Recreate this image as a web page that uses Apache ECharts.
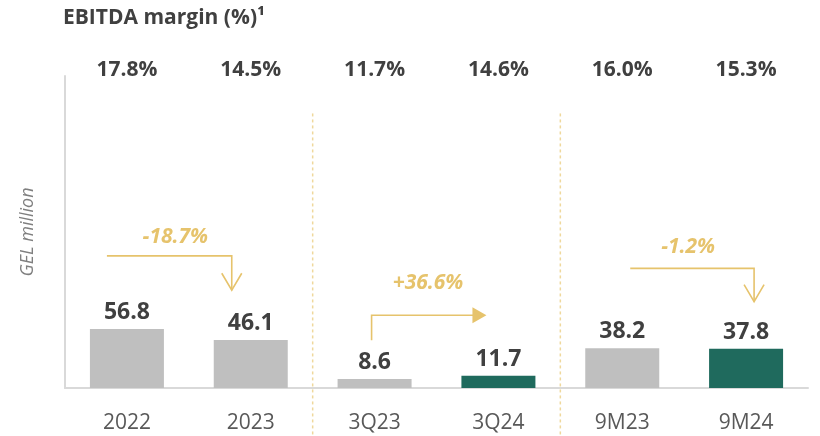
<!DOCTYPE html>
<html>
<head>
<meta charset="utf-8">
<script src="https://cdn.jsdelivr.net/npm/echarts@6/dist/echarts.min.js"></script>
<style>html,body{margin:0;padding:0;background:#fff;}#chart{width:820px;height:436px;}</style>
</head>
<body>
<div id="chart"></div>
<script>
// ---- data ----
const categories = ['2022', '2023', '3Q23', '3Q24', '9M23', '9M24'];
const ebitda = [56.8, 46.1, 8.6, 11.7, 38.2, 37.8];
const margins = ['17.8%', '14.5%', '11.7%', '14.6%', '16.0%', '15.3%'];
const changeLabels = ['-18.7%', '+36.6%', '-1.2%'];
const changeFrom = [0, 2, 4];
const changeTo = [1, 3, 5];
const separatorsAfter = [1, 3];

// ---- style / layout ----
const GREY = '#bfbfbf', GREEN = '#1f6a5d', GOLD = '#e6c36c', TEXT = '#404040';
const barColors = [GREY, GREY, GREY, GREEN, GREY, GREEN];
// annotation geometry (in axis value units / pixel offsets)
const arrowLayout = [
  { kind: 'hd', dx0: -20, dx1: -19, level: 127, end: 94, textLift: 19, textDx: 6 },
  { kind: 'ur', dx0: -3, dx1: -12, start: 46, level: 70, textLift: 32, textDx: -1 },
  { kind: 'hd', dx0: 8, dx1: 8, level: 115, end: 83, textLift: 21, textDx: -4 }
];
const FONT = '"Open Sans", "Noto Sans", sans-serif';

const chart = echarts.init(document.getElementById('chart'));

const arrowData = changeLabels.map((l, i) => [changeFrom[i], changeTo[i], i]);

const option = {
  animation: false,
  backgroundColor: '#fff',
  title: {
    text: 'EBITDA margin (%)¹',
    left: 58, top: 3,
    textStyle: { fontFamily: FONT, fontSize: 21, fontWeight: 'bold', color: TEXT }
  },
  grid: { left: 65, right: 12, top: 76, bottom: 48 },
  xAxis: [
    {
      type: 'category', data: categories, position: 'bottom',
      axisLine: { lineStyle: { color: '#d9d9d9', width: 2 } },
      axisTick: { show: false },
      axisLabel: { fontFamily: FONT, fontSize: 21, color: '#595959', margin: 25 }
    },
    {
      type: 'category', data: margins, position: 'top',
      axisLine: { show: false }, axisTick: { show: false },
      axisLabel: { fontFamily: FONT, fontSize: 21, fontWeight: 'bold', color: TEXT, margin: 6, verticalAlign: 'middle' }
    }
  ],
  yAxis: {
    type: 'value', min: 0, max: 300,
    splitLine: { show: false }, axisTick: { show: false }, axisLabel: { show: false },
    axisLine: { show: true, lineStyle: { color: '#d9d9d9', width: 2 } },
    name: 'GEL million', nameLocation: 'middle', nameRotate: 90, nameGap: 28,
    nameTextStyle: { fontFamily: FONT, fontSize: 18, fontStyle: 'italic', color: '#7f7f7f' }
  },
  series: [
    {
      type: 'bar', xAxisIndex: 0, barWidth: 74,
      data: ebitda.map((v, i) => ({ value: v, itemStyle: { color: barColors[i] } })),
      label: { show: true, position: 'top', distance: 5, fontFamily: FONT, fontSize: 23, fontWeight: 'bold', color: TEXT }
    },
    {
      type: 'custom', xAxisIndex: 0, clip: false, silent: true,
      data: separatorsAfter.map(i => [i]),
      renderItem: function (params, api) {
        const i = api.value(0);
        const a = api.coord([i, 0]), b = api.coord([i + 1, 264]);
        const x = (a[0] + b[0]) / 2;
        return {
          type: 'line',
          shape: { x1: x, y1: b[1], x2: x, y2: api.getHeight() },
          style: { stroke: '#efd89c', lineWidth: 1.5, lineDash: [3, 3] }
        };
      }
    },
    {
      type: 'custom', xAxisIndex: 0, clip: false, silent: true,
      data: arrowData,
      renderItem: function (params, api) {
        const from = api.value(0), to = api.value(1), k = api.value(2);
        const L = arrowLayout[k];
        const x0 = api.coord([from, 0])[0] + L.dx0;
        const x1 = api.coord([to, 0])[0] + L.dx1;
        const children = [];
        let yLevel;
        if (L.kind === 'hd') {
          yLevel = api.coord([from, L.level])[1];
          const yEnd = api.coord([from, L.end])[1];
          children.push({ type: 'polyline', shape: { points: [[x0, yLevel], [x1, yLevel], [x1, yEnd]] },
            style: { stroke: GOLD, lineWidth: 1.6, fill: null } });
          children.push({ type: 'polyline', shape: { points: [[x1 - 10, yEnd - 17], [x1, yEnd], [x1 + 10, yEnd - 17]] },
            style: { stroke: GOLD, lineWidth: 1.6, fill: null } });
        } else {
          const yStart = api.coord([from, L.start])[1];
          yLevel = api.coord([from, L.level])[1];
          children.push({ type: 'polyline', shape: { points: [[x0, yStart], [x0, yLevel], [x1 - 12, yLevel]] },
            style: { stroke: GOLD, lineWidth: 1.6, fill: null } });
          children.push({ type: 'polygon', shape: { points: [[x1 - 14, yLevel - 8], [x1, yLevel], [x1 - 14, yLevel + 8]] },
            style: { fill: GOLD } });
        }
        children.push({
          type: 'text',
          style: {
            text: changeLabels[k], x: (x0 + x1) / 2 + L.textDx, y: yLevel - L.textLift,
            align: 'center', verticalAlign: 'middle',
            font: 'italic bold 21px ' + FONT, fill: GOLD
          }
        });
        return { type: 'group', children: children };
      }
    }
  ]
};
chart.setOption(option);
</script>
</body>
</html>
